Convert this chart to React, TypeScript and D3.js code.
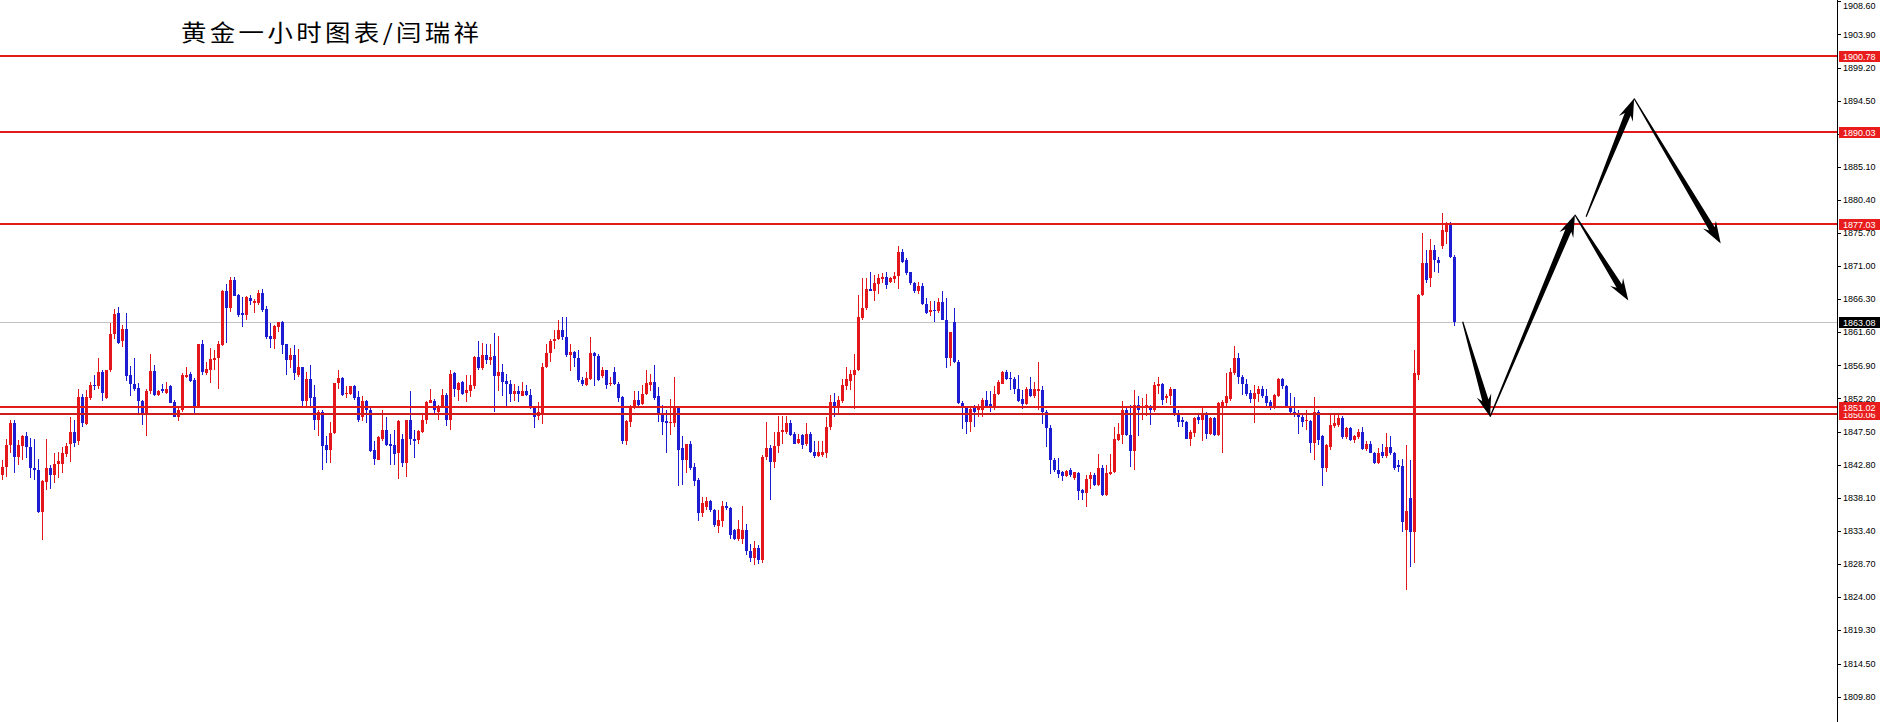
import React from 'react';
import * as d3 from 'd3';

// OHLC of the 1-hour gold candles (index 0 = leftmost)
const opens = [1841.3,1842.5,1845.6,1848.7,1843.9,1845.4,1846.9,1845.3,1842.3,1842.0,1836.1,1840.4,1842.3,1841.3,1842.9,1842.9,1844.3,1845.8,1847.4,1846.1,1852.4,1848.6,1852.2,1854.1,1853.9,1856.0,1852.2,1856.2,1861.4,1864.3,1860.3,1862.0,1855.5,1854.3,1853.7,1851.8,1849.9,1853.3,1856.1,1852.7,1853.5,1853.0,1853.9,1851.7,1849.6,1850.6,1855.3,1855.7,1854.8,1851.0,1859.9,1855.8,1856.2,1857.7,1857.9,1859.8,1867.4,1865.1,1869.0,1866.9,1864.3,1864.1,1866.4,1865.8,1865.8,1867.2,1864.9,1861.1,1860.7,1862.4,1863.0,1859.9,1857.6,1858.4,1855.5,1856.6,1851.9,1855.0,1852.4,1849.1,1850.3,1845.6,1844.9,1847.3,1854.4,1855.1,1852.8,1852.8,1853.9,1852.4,1849.5,1851.9,1850.6,1844.9,1843.5,1846.5,1847.7,1845.8,1845.6,1844.4,1846.4,1843.1,1849.1,1846.4,1846.3,1847.5,1849.1,1851.6,1851.9,1850.3,1851.0,1852.7,1849.2,1855.8,1853.4,1854.6,1853.0,1853.3,1854.0,1858.1,1856.5,1858.4,1857.6,1858.2,1855.4,1855.9,1854.7,1854.3,1852.9,1853.2,1852.6,1853.2,1852.7,1850.8,1849.7,1849.8,1856.6,1858.7,1860.3,1860.6,1861.9,1861.0,1858.4,1858.8,1857.9,1854.8,1854.1,1855.0,1858.7,1858.3,1855.4,1856.2,1854.3,1856.0,1854.3,1852.4,1846.1,1848.9,1850.8,1852.0,1851.4,1852.9,1854.1,1854.6,1852.5,1850.2,1849.0,1848.7,1848.7,1850.8,1845.1,1843.5,1845.8,1842.5,1840.6,1835.9,1836.8,1837.7,1836.3,1834.1,1834.8,1836.9,1836.6,1833.5,1832.3,1832.3,1833.5,1830.6,1829.6,1831.0,1829.3,1843.9,1845.1,1843.2,1845.4,1847.5,1847.5,1848.7,1847.2,1845.9,1847.0,1845.8,1847.2,1844.6,1844.0,1844.1,1844.4,1848.1,1851.7,1851.0,1851.9,1853.9,1854.7,1855.5,1856.2,1863.6,1865.0,1867.7,1867.5,1868.5,1869.1,1869.5,1868.7,1869.1,1869.6,1873.0,1871.8,1870.1,1868.6,1867.4,1868.2,1865.6,1864.5,1864.8,1864.6,1865.9,1863.4,1858.0,1863.0,1857.4,1851.6,1850.8,1848.8,1850.8,1850.6,1850.6,1852.0,1851.4,1851.1,1852.8,1854.3,1856.0,1855.1,1854.9,1853.6,1852.1,1851.4,1853.6,1852.5,1853.3,1853.4,1850.3,1848.0,1843.5,1842.1,1841.7,1841.2,1842.0,1840.9,1841.6,1839.2,1838.8,1840.7,1841.3,1839.9,1842.3,1838.5,1841.5,1841.7,1846.3,1847.0,1850.6,1847.0,1844.8,1851.3,1850.9,1850.9,1851.0,1850.6,1854.0,1854.3,1852.3,1852.5,1853.5,1850.2,1849.1,1848.9,1846.4,1847.3,1849.5,1849.2,1850.1,1847.2,1849.4,1847.0,1851.0,1851.6,1852.1,1855.8,1858.0,1855.3,1854.3,1853.0,1852.1,1852.8,1853.6,1852.5,1851.7,1851.0,1852.5,1854.9,1853.9,1851.1,1850.3,1850.0,1849.5,1849.0,1849.0,1845.9,1850.3,1846.8,1842.3,1845.3,1848.3,1848.4,1849.4,1846.7,1848.0,1846.3,1846.7,1847.5,1845.0,1845.8,1844.5,1843.0,1844.6,1844.0,1845.3,1844.4,1842.8,1842.6,1833.5,1838.0,1833.3,1855.5,1866.9,1871.4,1869.3,1873.3,1871.9,1873.8,1875.9,1876.8,1872.3];
const highs = [1843.5,1846.5,1849.2,1849.2,1846.3,1847.0,1847.5,1846.6,1846.5,1843.6,1840.6,1846.4,1842.8,1844.4,1844.6,1845.3,1845.9,1849.5,1849.2,1853.5,1852.8,1853.4,1854.6,1855.5,1858.0,1856.2,1856.3,1862.9,1864.9,1865.2,1862.6,1864.3,1856.8,1857.9,1854.4,1852.0,1853.5,1858.5,1857.0,1853.4,1854.3,1854.6,1854.1,1852.0,1850.8,1855.8,1856.7,1856.0,1855.1,1860.0,1860.5,1857.4,1859.3,1859.1,1860.4,1867.6,1868.5,1869.4,1869.4,1867.1,1866.6,1866.8,1866.9,1866.3,1867.6,1867.8,1865.3,1862.9,1862.6,1863.1,1863.2,1860.0,1859.3,1859.8,1859.2,1856.7,1856.0,1857.0,1854.1,1850.5,1850.5,1846.9,1848.9,1854.4,1856.2,1855.2,1854.0,1854.0,1854.1,1853.2,1852.5,1852.0,1851.0,1846.1,1846.8,1850.6,1849.5,1847.2,1847.7,1849.2,1847.2,1849.2,1853.3,1847.7,1847.7,1850.2,1851.9,1853.5,1852.1,1851.3,1853.5,1853.0,1856.2,1855.9,1854.6,1854.7,1855.5,1855.5,1858.2,1860.3,1860.1,1860.0,1860.0,1861.5,1861.1,1857.1,1855.7,1854.8,1854.3,1854.0,1854.6,1854.1,1853.6,1851.0,1851.7,1857.2,1860.0,1860.6,1861.9,1863.3,1863.7,1863.7,1859.9,1859.0,1859.1,1855.3,1856.0,1860.9,1858.8,1858.5,1856.6,1856.3,1855.3,1856.7,1854.6,1852.5,1849.2,1851.3,1853.2,1853.3,1854.1,1856.2,1855.7,1856.9,1853.8,1851.3,1850.6,1852.1,1855.3,1851.0,1846.9,1845.8,1846.1,1843.1,1840.9,1838.2,1838.2,1837.8,1836.5,1836.3,1837.7,1837.5,1836.8,1833.6,1834.9,1836.9,1834.3,1831.5,1831.9,1831.4,1844.2,1848.8,1845.6,1847.5,1849.7,1849.7,1849.7,1849.2,1847.5,1847.2,1847.2,1848.7,1847.5,1846.1,1846.1,1846.1,1849.6,1852.7,1853.0,1852.6,1854.9,1856.7,1856.3,1858.5,1866.9,1869.3,1869.3,1870.1,1869.7,1869.9,1870.0,1870.1,1869.5,1870.2,1873.8,1873.4,1872.1,1870.2,1868.8,1868.8,1868.6,1866.4,1866.0,1866.0,1866.4,1867.5,1866.4,1861.7,1865.0,1857.7,1851.9,1851.0,1851.0,1851.3,1851.4,1852.2,1853.2,1853.2,1853.9,1854.8,1856.1,1856.3,1856.0,1855.2,1855.5,1853.4,1853.8,1855.2,1854.6,1857.4,1854.0,1850.5,1848.4,1843.8,1843.7,1841.9,1842.1,1842.3,1841.8,1841.7,1839.4,1841.3,1841.8,1841.6,1844.3,1842.7,1842.7,1844.3,1848.2,1848.7,1851.9,1850.9,1851.3,1853.4,1852.5,1852.2,1852.9,1851.3,1854.6,1855.3,1854.4,1852.8,1853.8,1853.6,1850.6,1849.5,1849.0,1847.7,1849.5,1850.1,1850.9,1850.3,1849.5,1849.5,1851.7,1852.0,1855.8,1856.5,1859.6,1858.6,1855.5,1854.9,1853.4,1854.1,1854.0,1853.9,1853.5,1852.0,1852.9,1855.1,1855.1,1854.1,1853.0,1852.4,1850.6,1850.1,1850.6,1849.1,1852.4,1850.6,1847.0,1845.7,1849.9,1850.1,1850.2,1849.7,1848.1,1848.1,1847.0,1847.8,1848.1,1846.1,1846.1,1844.6,1845.1,1845.8,1847.3,1846.8,1844.6,1843.5,1843.6,1845.6,1843.5,1859.1,1867.1,1875.7,1873.3,1874.9,1874.0,1872.3,1878.5,1877.3,1877.3,1872.6];
const lows = [1840.6,1841.1,1844.4,1841.6,1842.8,1843.5,1843.7,1840.9,1840.6,1835.9,1832.1,1839.2,1839.4,1840.2,1840.9,1841.6,1843.9,1843.2,1845.3,1845.6,1848.2,1848.4,1852.0,1853.4,1853.6,1851.8,1852.1,1856.0,1860.7,1860.0,1859.5,1854.7,1852.6,1853.2,1850.1,1848.4,1846.8,1852.9,1852.6,1852.6,1853.0,1852.9,1851.5,1849.6,1849.0,1850.3,1855.1,1854.6,1850.1,1850.9,1855.5,1855.5,1854.4,1856.2,1853.6,1859.6,1860.1,1864.5,1866.7,1863.8,1862.4,1863.4,1865.5,1864.3,1865.5,1864.5,1860.7,1859.3,1859.2,1861.7,1858.5,1855.5,1856.5,1854.8,1855.3,1851.0,1851.0,1851.0,1847.7,1846.8,1842.0,1843.1,1843.1,1847.2,1853.6,1852.6,1852.2,1852.7,1852.0,1848.9,1849.0,1848.7,1844.6,1842.8,1843.4,1846.1,1845.4,1842.8,1842.8,1840.7,1842.4,1841.1,1845.6,1843.8,1845.7,1847.3,1848.6,1851.5,1850.1,1849.2,1850.9,1848.3,1847.7,1852.4,1851.9,1852.7,1851.7,1852.4,1853.6,1856.2,1856.3,1857.1,1856.9,1850.3,1853.2,1852.5,1850.8,1851.7,1851.9,1851.7,1852.5,1852.6,1850.7,1848.0,1849.2,1848.6,1856.5,1857.4,1859.2,1860.5,1860.5,1858.1,1856.1,1856.6,1854.6,1854.0,1854.0,1854.8,1854.0,1854.7,1855.1,1853.6,1854.0,1854.1,1851.7,1845.8,1845.6,1848.2,1850.7,1851.0,1851.3,1852.7,1853.3,1852.0,1848.9,1847.0,1844.4,1847.0,1848.2,1839.7,1839.9,1841.6,1842.1,1839.7,1834.8,1835.3,1836.4,1836.1,1834.0,1833.1,1834.0,1836.4,1832.3,1832.1,1832.0,1831.5,1830.0,1828.9,1828.6,1828.7,1828.8,1843.5,1837.8,1842.3,1844.4,1845.8,1847.2,1846.8,1845.7,1845.8,1845.0,1845.4,1844.5,1843.8,1843.9,1843.9,1843.7,1847.7,1849.5,1850.1,1851.6,1853.4,1853.4,1850.7,1856.1,1863.3,1864.8,1867.4,1866.1,1867.1,1868.6,1867.7,1868.6,1868.6,1867.8,1871.4,1869.7,1868.3,1867.2,1867.1,1865.5,1864.2,1863.9,1863.0,1864.3,1863.3,1856.5,1856.8,1857.3,1851.4,1847.8,1847.2,1847.5,1848.1,1849.6,1849.5,1850.8,1850.3,1850.5,1852.7,1854.2,1854.8,1853.4,1852.9,1851.7,1850.7,1851.3,1852.4,1852.2,1850.6,1848.6,1845.3,1841.5,1841.7,1840.9,1840.5,1841.0,1841.1,1840.6,1837.8,1837.8,1836.8,1839.3,1839.8,1839.7,1838.3,1838.3,1841.3,1841.6,1846.1,1845.8,1846.9,1842.5,1842.1,1846.9,1849.2,1849.7,1848.4,1850.3,1852.8,1851.3,1851.5,1851.3,1849.7,1848.1,1848.1,1846.4,1845.4,1846.7,1848.6,1846.2,1846.5,1847.0,1846.9,1846.8,1844.4,1851.0,1851.9,1855.5,1854.3,1852.7,1852.5,1851.6,1848.7,1851.7,1852.2,1851.1,1850.6,1850.7,1852.4,1853.6,1850.8,1849.8,1849.6,1847.2,1848.2,1847.7,1844.4,1843.5,1845.6,1839.8,1841.7,1844.9,1848.0,1848.1,1846.4,1846.4,1846.1,1845.9,1846.4,1844.9,1844.8,1844.4,1842.9,1842.9,1843.7,1843.8,1844.2,1842.0,1841.7,1833.3,1825.0,1828.3,1828.8,1854.8,1866.7,1868.6,1868.1,1870.2,1870.0,1873.5,1874.2,1872.1,1862.5];
const closes = [1842.5,1845.6,1848.7,1843.9,1845.6,1846.8,1845.3,1842.3,1842.0,1836.1,1840.5,1842.3,1841.3,1842.9,1843.3,1844.4,1845.5,1847.4,1845.9,1852.4,1848.7,1852.4,1854.1,1854.0,1856.0,1853.0,1856.2,1861.4,1864.2,1860.1,1862.0,1855.4,1854.3,1853.6,1851.8,1849.9,1853.3,1856.1,1852.7,1853.3,1853.3,1853.6,1851.6,1849.6,1850.6,1855.5,1855.5,1854.7,1851.0,1859.9,1855.9,1856.4,1857.8,1857.9,1859.9,1867.4,1865.1,1869.0,1866.8,1864.1,1864.1,1866.6,1866.1,1866.1,1867.2,1864.8,1860.9,1860.7,1862.5,1863.0,1859.8,1857.6,1858.4,1855.8,1856.6,1851.9,1855.0,1852.2,1849.1,1850.3,1845.5,1844.9,1847.3,1854.4,1855.1,1852.7,1853.0,1853.9,1852.2,1849.2,1851.8,1850.6,1844.8,1843.6,1846.7,1847.7,1845.6,1845.5,1844.3,1849.0,1843.1,1849.1,1846.4,1846.2,1847.6,1849.2,1851.7,1852.0,1850.6,1851.0,1852.7,1849.2,1855.7,1853.5,1854.4,1852.8,1853.4,1854.1,1858.1,1856.5,1858.4,1857.6,1858.1,1855.4,1855.9,1854.6,1854.3,1852.9,1853.2,1852.8,1853.2,1852.7,1850.8,1849.6,1850.3,1856.6,1858.7,1860.4,1860.7,1861.9,1860.9,1858.4,1858.8,1857.9,1854.8,1854.3,1855.1,1858.7,1858.2,1854.8,1856.2,1854.1,1854.4,1854.3,1852.2,1846.1,1849.0,1850.8,1852.0,1851.3,1852.9,1854.4,1854.6,1852.2,1850.1,1848.8,1848.7,1848.8,1850.8,1844.9,1843.5,1845.8,1842.3,1840.5,1835.9,1837.3,1837.7,1836.4,1834.2,1834.9,1836.9,1836.6,1832.8,1832.3,1833.6,1833.5,1830.6,1829.6,1831.0,1829.3,1843.9,1845.1,1843.2,1845.5,1847.5,1847.7,1848.7,1847.0,1845.8,1846.4,1845.6,1847.2,1844.6,1844.0,1844.6,1844.6,1848.2,1851.7,1851.0,1852.0,1854.1,1854.9,1855.7,1856.3,1863.7,1865.1,1867.7,1867.5,1868.6,1869.3,1869.5,1868.3,1869.3,1869.6,1873.0,1871.6,1870.0,1868.6,1867.5,1868.2,1865.6,1864.4,1864.8,1864.6,1865.9,1863.3,1858.0,1861.7,1857.4,1851.5,1850.9,1848.9,1850.7,1850.3,1850.8,1852.0,1851.1,1850.8,1852.9,1854.6,1856.0,1854.9,1854.9,1853.6,1851.9,1851.4,1853.6,1852.5,1853.6,1853.6,1850.3,1848.0,1843.5,1842.0,1841.5,1841.2,1841.9,1841.3,1841.7,1839.1,1838.8,1840.8,1841.3,1839.9,1842.3,1838.5,1841.6,1841.8,1846.4,1847.1,1850.6,1847.0,1844.8,1851.3,1850.6,1851.1,1851.3,1850.6,1854.1,1854.3,1852.0,1852.5,1853.5,1850.2,1848.9,1848.8,1846.5,1847.5,1849.4,1849.2,1850.1,1847.2,1849.4,1847.0,1851.5,1851.7,1852.5,1855.9,1858.0,1855.2,1854.3,1852.9,1852.1,1853.0,1853.6,1852.5,1851.6,1851.0,1852.7,1854.9,1853.9,1851.1,1850.3,1850.0,1849.5,1848.9,1849.1,1845.9,1850.3,1846.3,1842.3,1845.6,1848.4,1848.7,1849.4,1846.7,1848.0,1846.3,1846.8,1847.5,1845.0,1845.8,1844.5,1843.0,1844.5,1844.0,1845.3,1844.4,1842.3,1842.5,1834.7,1836.2,1833.3,1855.8,1866.9,1871.4,1869.0,1873.3,1871.9,1871.4,1876.1,1876.8,1872.3,1863.08];

// price axis tick labels
const tickValues = [1908.6,1903.9,1899.2,1894.5,1889.8,1885.1,1880.4,1875.7,1871.0,1866.3,1861.6,1856.9,1852.2,1847.5,1842.8,1838.1,1833.4,1828.7,1824.0,1819.3,1814.5,1809.8];

// horizontal support / resistance levels
const levelPrices = [1900.78, 1890.03, 1877.03, 1850.06, 1851.02];
const lastPrice = 1863.08;

// projected path arrows (bar index, price)
const arrowFromIndex = [365.05, 371.9, 393.1, 395.9, 407.9];
const arrowFromPrice = [1863.1, 1849.6, 1878.3, 1878.0, 1894.8];
const arrowToIndex = [371.9, 393.1, 406.45, 407.9, 429.55];
const arrowToPrice = [1849.6, 1878.3, 1866.1, 1894.8, 1874.2];

const titleText = '黄金一小时图表/闫瑞祥';

const UP = '#e3161c';
const DOWN = '#1c1cd0';
const LEVEL = '#e31a1a';

function arrowPath(x1: number, y1: number, x2: number, y2: number) {
  const dx = x2 - x1, dy = y2 - y1;
  const len = Math.hypot(dx, dy);
  const ux = dx / len, uy = dy / len;
  const nx = -uy, ny = ux;
  const headLen = 22, headW = 7.5, neckW = 3.2, tailW = 0.6;
  const bx = x2 - ux * headLen, by = y2 - uy * headLen;
  const nkx = x2 - ux * (headLen - 5), nky = y2 - uy * (headLen - 5);
  const pts = [
    [x1 + nx * tailW, y1 + ny * tailW],
    [nkx + nx * neckW, nky + ny * neckW],
    [bx + nx * headW, by + ny * headW],
    [x2, y2],
    [bx - nx * headW, by - ny * headW],
    [nkx - nx * neckW, nky - ny * neckW],
    [x1 - nx * tailW, y1 - ny * tailW],
  ];
  return 'M' + pts.map(p => p[0].toFixed(2) + ',' + p[1].toFixed(2)).join('L') + 'Z';
}

export default function App() {
  const W = 1880, H = 722;
  const axisX = 1837;
  const y = d3.scaleLinear().domain([1908.8, 1806.24]).range([0, H]);
  const x = d3.scaleLinear().domain([0, 363]).range([2.5, 1454.5]);
  const fmt = d3.format('.2f');
  const labelFont = '"Liberation Sans", Arial, sans-serif';

  const candles = opens.map((o, i) => {
    const c = closes[i], h = highs[i], l = lows[i];
    const up = c >= o;
    const cx = x(i);
    const top = Math.round(y(Math.max(o, c)));
    const bot = Math.round(y(Math.min(o, c)));
    const wt = Math.round(y(h));
    const wb = Math.round(y(l));
    const col = up ? UP : DOWN;
    return (
      <g key={i} fill={col}>
        <rect x={cx - 0.5} y={wt} width={1} height={Math.max(1, wb - wt)} />
        <rect x={cx - 1.5} y={top} width={3} height={Math.max(1, bot - top)} />
      </g>
    );
  });

  return (
    <svg width={W} height={H} style={{ position: 'absolute', left: 0, top: 0, display: 'block', background: '#fff' }}>
      <rect x={0} y={0} width={W} height={H} fill="#fff" />
      {/* last price line */}
      <rect x={0} y={Math.round(y(lastPrice))} width={axisX} height={1} fill="#c3c3c3" />
      <g shapeRendering="crispEdges">{candles}</g>
      {/* levels */}
      {levelPrices.map((p, i) => (
        <rect key={i} x={0} y={Math.round(y(p)) - 1} width={axisX} height={2} fill={p === 1850.06 ? '#cf1d1d' : LEVEL} shapeRendering="crispEdges" />
      ))}
      {/* arrows */}
      {arrowFromIndex.map((fi, i) => (
        <path key={i} d={arrowPath(x(fi), y(arrowFromPrice[i]), x(arrowToIndex[i]), y(arrowToPrice[i]))} fill="#000" />
      ))}
      {/* title */}
      <text transform="translate(181,41) scale(1.13,1)" fontSize={22.5} letterSpacing={3}
        fontFamily='"Noto Sans CJK SC", "Noto Sans", sans-serif' fill="#000">{titleText}</text>
      {/* price axis */}
      <rect x={axisX} y={0} width={1} height={H} fill="#000" shapeRendering="crispEdges" />
      {tickValues.map((v, i) => (
        <g key={i}>
          <rect x={axisX + 1} y={Math.round(y(v))} width={3} height={1} fill="#000" shapeRendering="crispEdges" />
          <text x={axisX + 6} y={Math.max(5.5, y(v))} dy="0.35em" fontSize={9} fontFamily={labelFont} fill="#000">{fmt(v)}</text>
        </g>
      ))}
      {levelPrices.map((p, i) => (
        <g key={'l' + i}>
          <rect x={axisX + 2} y={Math.round(y(p)) - 5} width={W - axisX - 2} height={11} fill="#e81c1c" shapeRendering="crispEdges" />
          <text x={axisX + 6} y={Math.round(y(p)) + 0.5} dy="0.35em" fontSize={9} fontFamily={labelFont} fill="#fff">{fmt(p)}</text>
        </g>
      ))}
      <rect x={axisX + 2} y={Math.round(y(lastPrice)) - 5} width={W - axisX - 2} height={11} fill="#000" shapeRendering="crispEdges" />
      <text x={axisX + 6} y={Math.round(y(lastPrice)) + 0.5} dy="0.35em" fontSize={9} fontFamily={labelFont} fill="#fff">{fmt(lastPrice)}</text>
    </svg>
  );
}
